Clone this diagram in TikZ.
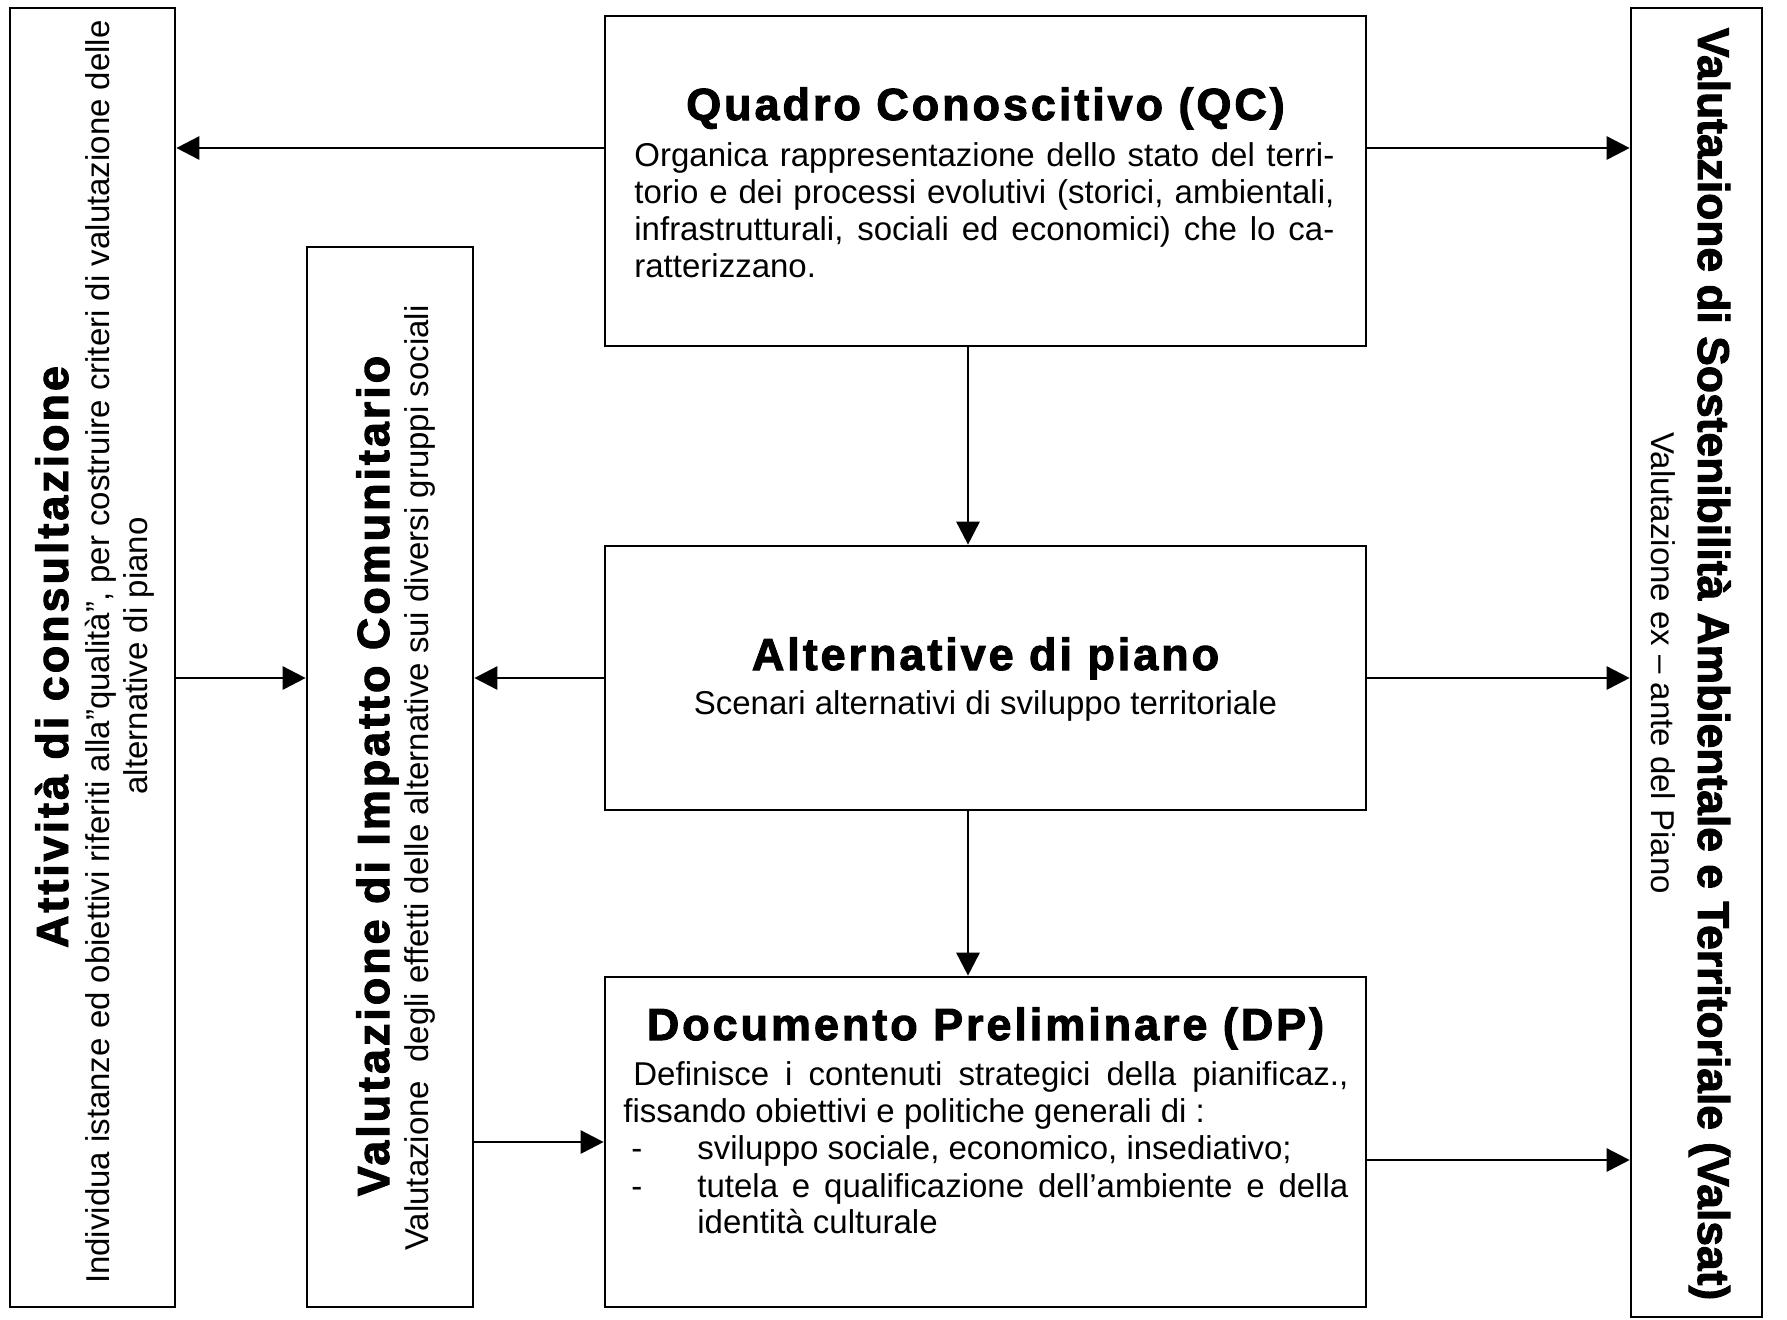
\documentclass[tikz,border=0pt]{standalone}
\usepackage{fontspec}
\setmainfont{Liberation Sans}
\newfontfamily\ttlfont{Liberation Sans}[LetterSpace=6.5,BoldFeatures={FakeBold=2.2}]
\newfontfamily\ttlbfont{Liberation Sans}[BoldFeatures={FakeBold=2.2}]
\usetikzlibrary{arrows.meta,fit}
\begin{document}
\begin{tikzpicture}[x=0.5pt,y=-0.5pt,
  box/.style={draw, line width=1.35pt, inner sep=0pt},
  arr/.style={line width=1.4pt, -{Triangle[length=11.5pt,width=11.5pt]}},
  ttl/.style={inner sep=0pt, font=\ttlfont\bfseries\fontsize{22.5}{25}\selectfont},
  ttlb/.style={inner sep=0pt, font=\ttlbfont\bfseries\fontsize{22.2}{25}\selectfont},
  txt/.style={inner sep=0pt, font=\fontsize{16.5}{20}\selectfont},
]
\path[fill=white, use as bounding box] (0,0) rectangle (1787,1319);

% boxes
\node[box, fit={(10,8)(175,1307)}] (act) {};
\node[box, fit={(307,247)(473,1307)}] (vic) {};
\node[box, fit={(605,16)(1366,346)}] (qc) {};
\node[box, fit={(605,546)(1366,810)}] (alt) {};
\node[box, fit={(605,977)(1366,1307)}] (dp) {};
\node[box, fit={(1631,8)(1762,1317)}] (val) {};

% connector levels
\coordinate (yq) at (0,148);
\coordinate (yd) at (0,1160);
\coordinate (xv) at (968,0);

% connectors
\draw[arr] (qc.west |- yq) -- (act.east |- yq);
\draw[arr] (qc.east |- yq) -- (val.west |- yq);
\draw[arr] (qc.south -| xv) -- (alt.north -| xv);
\draw[arr] (act.east |- alt.west) -- (vic.west |- alt.west);
\draw[arr] (alt.west) -- (vic.east |- alt.west);
\draw[arr] (alt.east) -- (val.west |- alt.east);
\draw[arr] (alt.south -| xv) -- (dp.north -| xv);
\draw[arr] (vic.east |- dp.west) -- (dp.west);
\draw[arr] (dp.east |- yd) -- (val.west |- yd);

% left box
\node[ttl, rotate=90, anchor=base] (actT) at (68,657) {Attività di consultazione};
\node[txt, rotate=90, anchor=base] (actS1) at (109,652) {Individua istanze ed obiettivi riferiti alla”qualità”, per costruire criteri di valutazione delle};
\node[txt, rotate=90, anchor=base] (actS2) at (147,656) {alternative di piano};

% VIC box
\node[ttl, rotate=90, anchor=base] (vicT) at (389,776) {Valutazione di Impatto Comunitario};
\node[txt, rotate=90, anchor=base] (vicS) at (428,778) {Valutazione\ \ degli effetti delle alternative sui diversi gruppi sociali};

% right box
\node[ttlb, rotate=-90, anchor=base] (valT) at (1698,664) {Valutazione di Sostenibilità Ambientale e Territoriale (Valsat)};
\node[txt, rotate=-90, anchor=base] (valS) at (1651,663) {Valutazione ex – ante del Piano};

% QC
\node[ttl, anchor=base] (qcT) at (985.5,120) {Quadro Conoscitivo (QC)};
\node[txt, anchor=base west] (qc1) at (634,166) {\makebox[350pt][s]{Organica rappresentazione dello stato del terri-}};
\node[txt, anchor=base west] (qc2) at (634,203) {\makebox[350pt][s]{torio e dei processi evolutivi (storici, ambientali,}};
\node[txt, anchor=base west] (qc3) at (634,240) {\makebox[350pt][s]{infrastrutturali, sociali ed economici) che lo ca-}};
\node[txt, anchor=base west] (qc4) at (634,277) {ratterizzano.};

% Alternative
\node[ttl, anchor=base] (altT) at (985.5,670) {Alternative di piano};
\node[txt, anchor=base] (altS) at (985.5,714) {Scenari alternativi di sviluppo territoriale};

% DP
\node[ttl, anchor=base] (dpT) at (985.5,1040) {Documento Preliminare (DP)};
\node[txt, anchor=base west] (dp1) at (633,1085) {\makebox[357.5pt][s]{Definisce i contenuti strategici della pianificaz.,}};
\node[txt, anchor=base west] (dp2) at (623,1122) {fissando obiettivi e politiche generali di :};
\node[txt, anchor=base west] (dp3d) at (631,1159) {-};
\node[txt, anchor=base west] (dp3) at (697,1159) {sviluppo sociale, economico, insediativo;};
\node[txt, anchor=base west] (dp4d) at (631,1197) {-};
\node[txt, anchor=base west] (dp4) at (697,1197) {\makebox[325.5pt][s]{tutela e qualificazione dell’ambiente e della}};
\node[txt, anchor=base west] (dp5) at (697,1233) {identità culturale};
\end{tikzpicture}
\end{document}
